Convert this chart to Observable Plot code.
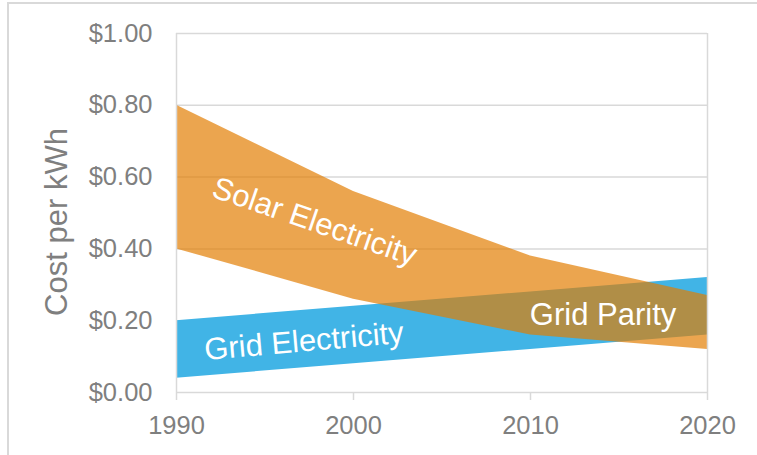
<!DOCTYPE html>
<html>
<head>
<meta charset="utf-8">
<script src="https://cdn.jsdelivr.net/npm/d3@7"></script>
<script src="https://cdn.jsdelivr.net/npm/@observablehq/plot@0.6"></script>
<style>
  html, body { margin: 0; padding: 0; background: #fff; overflow: hidden; }
  #wrap { position: relative; width: 757px; height: 455px; }
  #frame { position: absolute; left: 7px; top: 2px; width: 770px; height: 470px;
           border: 2px solid #d9d9d9; box-sizing: border-box; pointer-events: none; }
</style>
</head>
<body>
<div id="wrap"><div id="frame"></div></div>
<script>
const years = [1990, 2000, 2010, 2020];
const solarHigh = [0.80, 0.56, 0.38, 0.27];
const solarLow = [0.40, 0.26, 0.16, 0.12];
const gridHigh = [0.20, 0.24, 0.28, 0.32];
const gridLow = [0.04, 0.08, 0.12, 0.16];
const yTicks = [0, 0.2, 0.4, 0.6, 0.8, 1.0];
const xTicks = [1990, 2000, 2010, 2020];
const yTitle = "Cost per kWh";
const labelText = ["Solar Electricity", "Grid Electricity", "Grid Parity"];
const labelX = [1997.8, 1997.2, 2014.1];
const labelY = [0.476, 0.142, 0.217];
const labelRotate = [19, -5, 0];

const solar = years.map((x, i) => ({x, lo: solarLow[i], hi: solarHigh[i]}));
const grid = years.map((x, i) => ({x, lo: gridLow[i], hi: gridHigh[i]}));
const labels = labelText.map((t, i) => ({t, x: labelX[i], y: labelY[i], r: labelRotate[i]}));

const font = "Liberation Sans, Arial, sans-serif";
const chart = Plot.plot({
  width: 757,
  height: 455,
  marginLeft: 176,
  marginRight: 50,
  marginTop: 33,
  marginBottom: 63,
  style: { fontFamily: font, background: "transparent", overflow: "visible" },
  x: { domain: [1990, 2020] },
  y: { domain: [0, 1] },
  marks: [
    Plot.ruleY(yTicks, { stroke: "#d9d9d9", strokeWidth: 1.5 }),
    Plot.areaY(grid, { x: "x", y1: "lo", y2: "hi", fill: "#41B4E6" }),
    Plot.areaY(solar, { x: "x", y1: "lo", y2: "hi", fill: "#E27D00", fillOpacity: 0.69 }),
    Plot.ruleX([1990, 2020], { y1: 0, y2: 1, stroke: "#d9d9d9", strokeWidth: 1.5 }),
    Plot.axisY({ ticks: yTicks, tickSize: 0, tickPadding: 24, tickFormat: d => "$" + d.toFixed(2),
      fontSize: 25.5, fill: "#7f7f7f", label: null }),
    Plot.axisX({ ticks: xTicks, tickSize: 8, tickPadding: 15, tickFormat: d => String(d),
      fontSize: 25.5, fill: "#7f7f7f", stroke: "#d9d9d9", strokeWidth: 1.5, label: null }),
    Plot.text([yTitle], { frameAnchor: "left", textAnchor: "middle", lineAnchor: "middle",
      dx: -119, dy: 9, rotate: -90, fontSize: 31, fill: "#7f7f7f", text: d => d }),
    Plot.text(labels, { x: "x", y: "y", text: "t", rotate: "r", fill: "white", fontSize: 31 })
  ]
});
document.getElementById("wrap").prepend(chart);
</script>
</body>
</html>
